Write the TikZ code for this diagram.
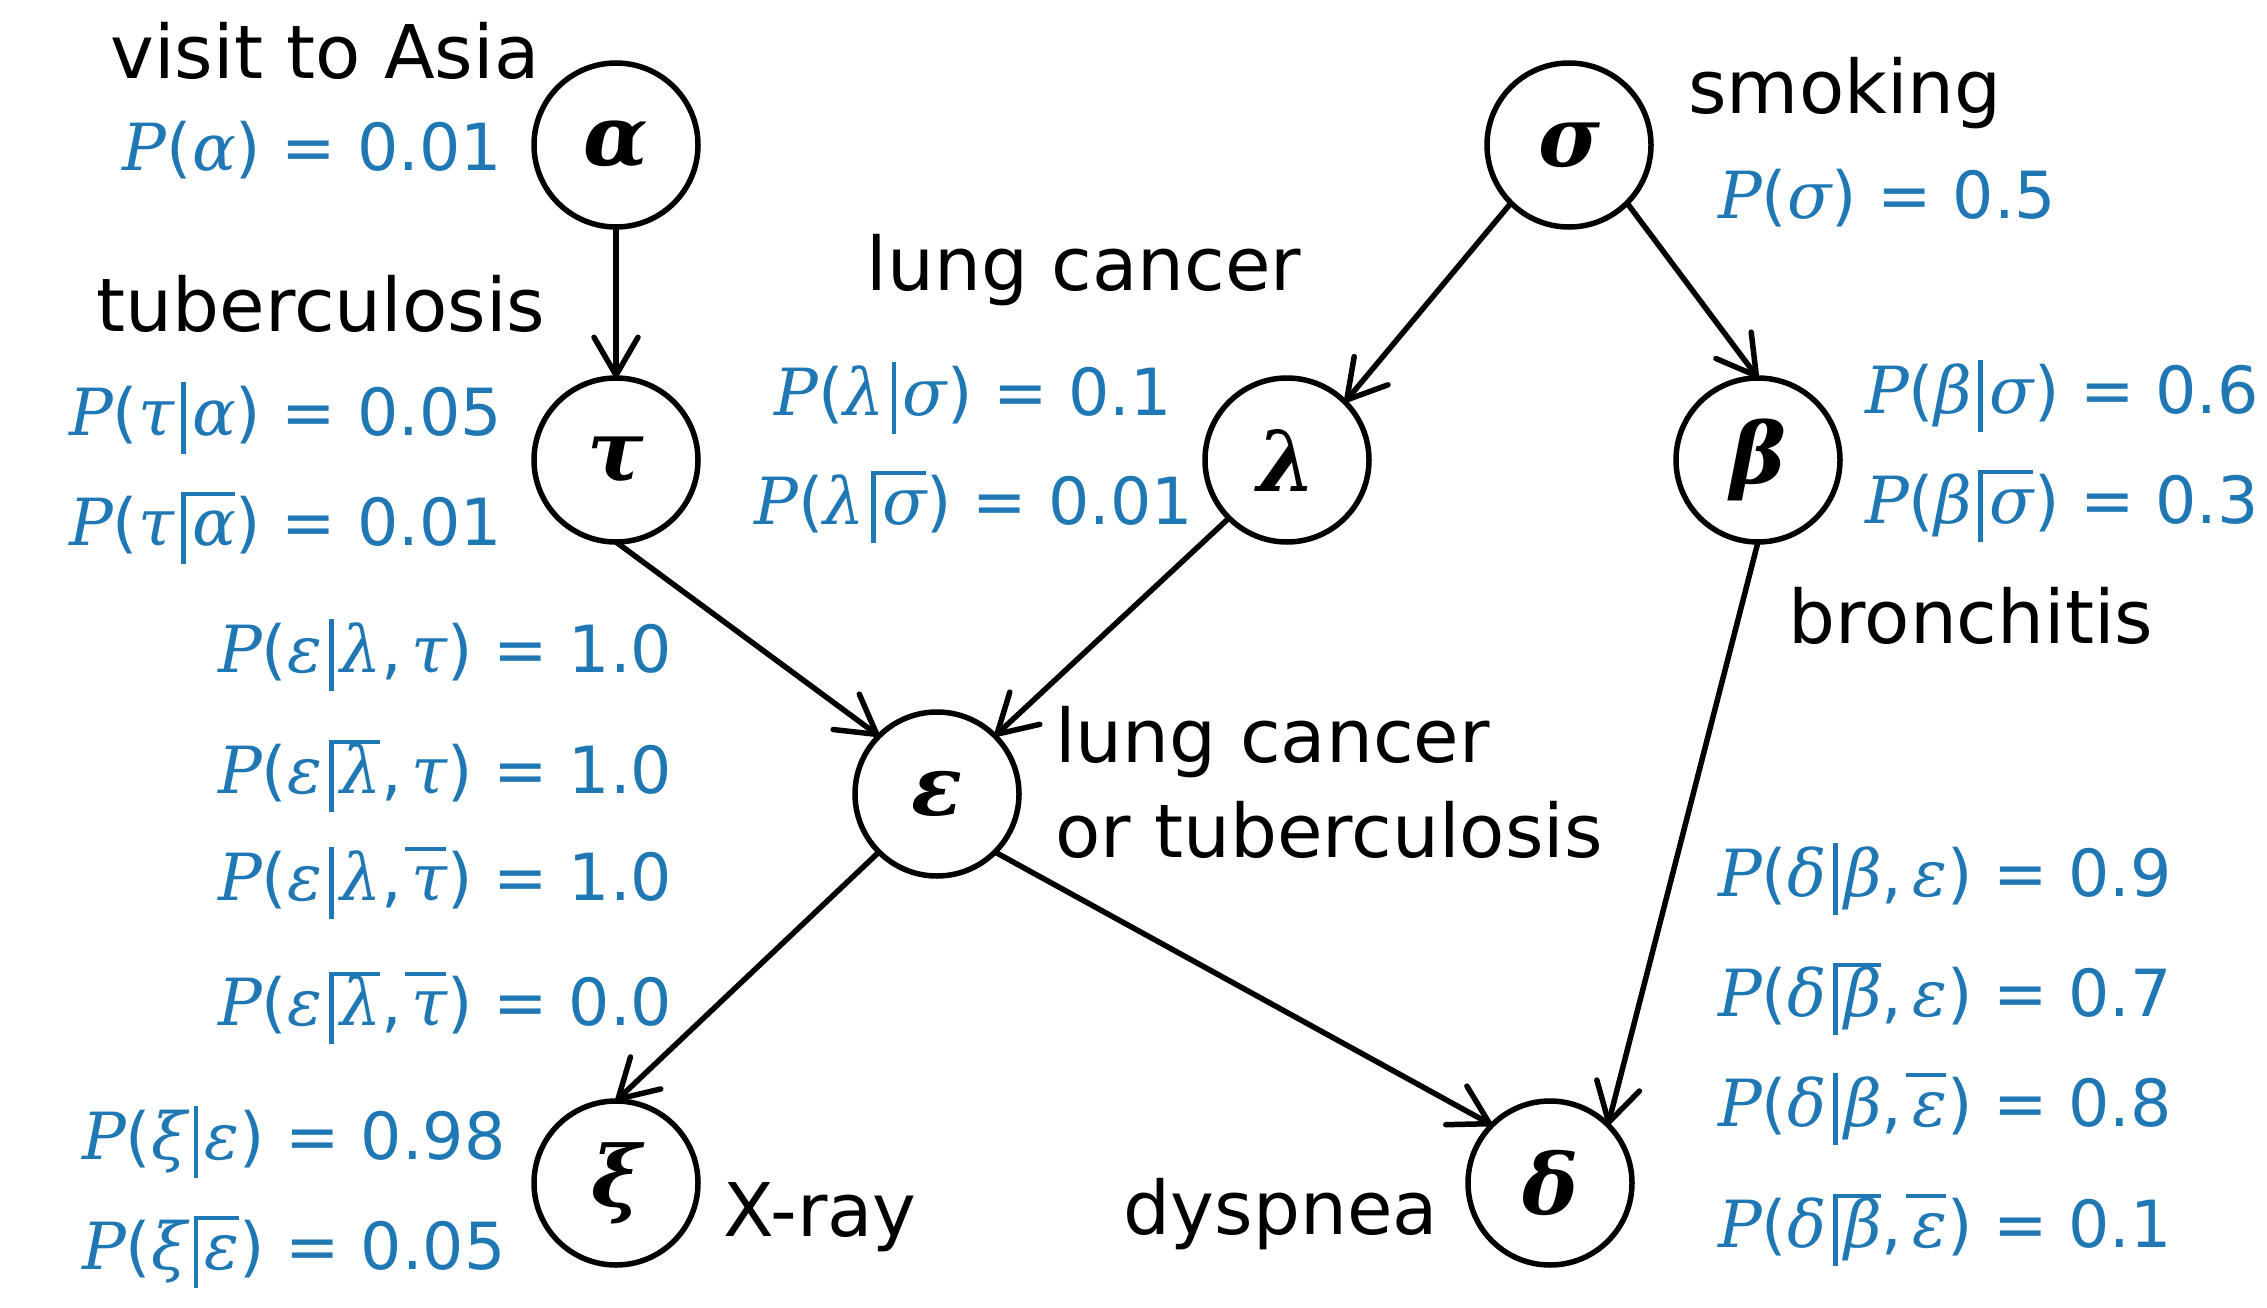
\documentclass[tikz,border=0pt]{standalone}
\usepackage{fontspec}
\setmainfont{DejaVu Sans}
\newfontfamily\mif{DejaVu Serif}
\usetikzlibrary{arrows.meta}
\definecolor{mblue}{HTML}{1F77B4}
\newcommand\mi[1]{{\mif\itshape #1}}
\newcommand\cb{\hspace{0.1em}\rule[-0.28em]{0.075em}{1.1em}\hspace{0.1em}}
\newcommand\ovl[1]{\leavevmode\setbox0\hbox{#1}\rlap{\hspace{-0.1em}\raisebox{0.76em}{\rule{\dimexpr\wd0+0.08em\relax}{0.06em}}}\box0}
\newcommand\cm{,\hspace{0.15em}}
\tikzset{
  x=1pt,y=-1pt,
  var/.style={circle,draw,line width=5.5pt,minimum size=164pt,inner sep=0pt,outer sep=0pt,font=\fontsize{84}{90}\mif\bfseries\itshape},
  lbl/.style={font=\fontsize{74}{80}\selectfont,inner sep=0pt},
  prob/.style={font=\fontsize{65}{70}\selectfont,text=mblue,inner sep=0pt},
  edge/.style={line width=5.5pt,-{Straight Barb[length=38pt,width=44pt,line width=5.5pt,round]}}
}
\begin{document}
\begin{tikzpicture}
\useasboundingbox (0,0) rectangle (2267,1308);
\node[var] (a) at (616,145) {α};
\node[var] (s) at (1569,145) {σ};
\node[var] (t) at (616,460) {τ};
\node[var] (l) at (1287,460) {λ};
\node[var] (b) at (1758,460) {β};
\node[var] (e) at (937,794) {ε};
\node[var] (x) at (616,1183) {ξ};
\node[var] (d) at (1550,1183) {δ};

\draw[edge] (a.south) -- (t.north);
\draw[edge] (s.south west) -- (l.north east);
\draw[edge] (s.south east) -- (b.north);
\draw[edge] (t.south) -- (e.north west);
\draw[edge] (l.south west) -- (e.north east);
\draw[edge] (b.south) -- (d.north east);
\draw[edge] (e.south west) -- (x.north);
\draw[edge] (e.south east) -- (d.north west);

\node[lbl] (la) at (325,51) {visit to Asia};
\node[prob,anchor=east] (pa) at (502,150) {\mi{P}(\mi{α}) = 0.01};
\node[lbl] (lt) at (321,304) {tuberculosis};
\node[prob,anchor=east] (pt1) at (502,418) {\mi{P}(\mi{τ}\cb\mi{α}) = 0.05};
\node[prob,anchor=east] (pt2) at (502,528) {\mi{P}(\mi{τ}\cb\ovl{\mi{α}}) = 0.01};
\node[lbl] (ls) at (1845,93) {smoking};
\node[prob,anchor=west] (ps) at (1718,198) {\mi{P}(\mi{σ}) = 0.5};
\node[lbl] (ll) at (1084,270) {lung cancer};
\node[prob,anchor=east] (pl1) at (1172,398) {\mi{P}(\mi{λ}\cb\mi{σ}) = 0.1};
\node[prob,anchor=east] (pl2) at (1193,507) {\mi{P}(\mi{λ}\cb\ovl{\mi{σ}}) = 0.01};
\node[prob,anchor=west] (pb1) at (1865,396) {\mi{P}(\mi{β}\cb\mi{σ}) = 0.6};
\node[prob,anchor=west] (pb2) at (1865,506) {\mi{P}(\mi{β}\cb\ovl{\mi{σ}}) = 0.3};
\node[lbl] (lb) at (1971,616) {bronchitis};
\node[prob,anchor=west] (pe1) at (218,655) {\mi{P}(\mi{ε}\cb\mi{λ}\cm\mi{τ}) = 1.0};
\node[prob,anchor=west] (pe2) at (218,776) {\mi{P}(\mi{ε}\cb\ovl{\mi{λ}}\cm\mi{τ}) = 1.0};
\node[prob,anchor=west] (pe3) at (218,883) {\mi{P}(\mi{ε}\cb\mi{λ}\cm\ovl{\mi{τ}}) = 1.0};
\node[prob,anchor=west] (pe4) at (218,1008) {\mi{P}(\mi{ε}\cb\ovl{\mi{λ}}\cm\ovl{\mi{τ}}) = 0.0};
\node[lbl,anchor=west] (le1) at (1055,742) {lung cancer};
\node[lbl,anchor=west] (le2) at (1055,830) {or tuberculosis};
\node[prob,anchor=west] (pd1) at (1718,879) {\mi{P}(\mi{δ}\cb\mi{β}\cm\mi{ε}) = 0.9};
\node[prob,anchor=west] (pd2) at (1718,999) {\mi{P}(\mi{δ}\cb\ovl{\mi{β}}\cm\mi{ε}) = 0.7};
\node[prob,anchor=west] (pd3) at (1718,1109) {\mi{P}(\mi{δ}\cb\mi{β}\cm\ovl{\mi{ε}}) = 0.8};
\node[prob,anchor=west] (pd4) at (1718,1230) {\mi{P}(\mi{δ}\cb\ovl{\mi{β}}\cm\ovl{\mi{ε}}) = 0.1};
\node[prob,anchor=west] (px1) at (82,1142) {\mi{P}(\mi{ξ}\cb\mi{ε}) = 0.98};
\node[prob,anchor=west] (px2) at (82,1252) {\mi{P}(\mi{ξ}\cb\ovl{\mi{ε}}) = 0.05};
\node[lbl] (lx) at (820,1217) {X-ray};
\node[lbl] (ld) at (1281,1214) {dyspnea};
\end{tikzpicture}
\end{document}
